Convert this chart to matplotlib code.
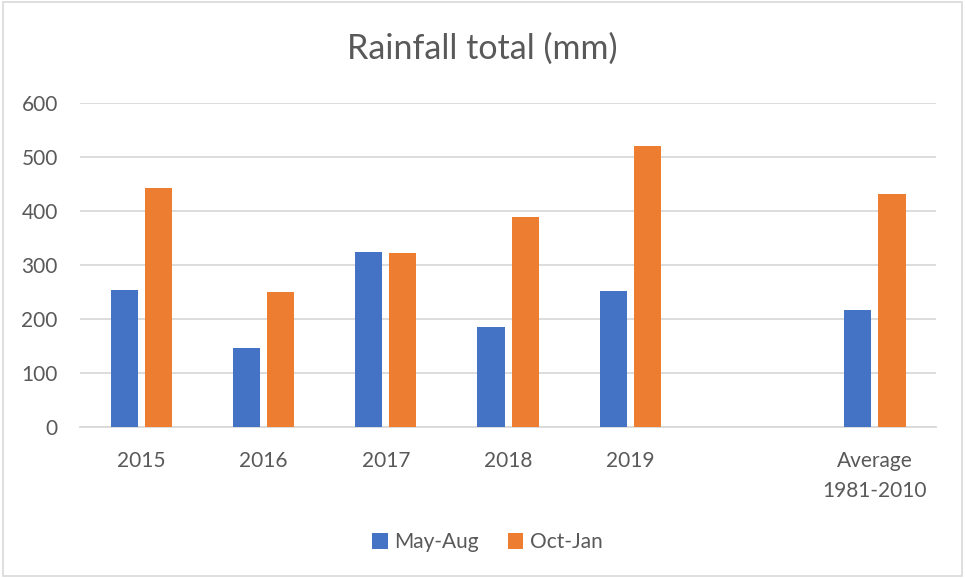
import numpy as np
import matplotlib
matplotlib.use("Agg")
import matplotlib.pyplot as plt
from matplotlib.patches import Rectangle

plt.rcParams['font.family'] = ['Lato', 'DejaVu Sans']

categories = ["2015", "2016", "2017", "2018", "2019", "", "Average\n1981-2010"]
may_aug = [254, 146, 325, 186, 253, np.nan, 217]
oct_jan = [443, 250, 322, 388, 520, np.nan, 431]
series_names = ["May-Aug", "Oct-Jan"]
colors = ["#4472C4", "#ED7D31"]
text_color = "#595959"
grid_color = "#D9D9D9"

fig = plt.figure(figsize=(9.65, 5.78), dpi=100)
ax = fig.add_axes([0.083, 0.2604, 0.887, 0.5619])

x = np.arange(len(categories))
width = 0.222
offset = 0.14
ax.bar(x - offset, may_aug, width, color=colors[0], label=series_names[0], zorder=3)
ax.bar(x + offset, oct_jan, width, color=colors[1], label=series_names[1], zorder=3)

ax.set_xlim(-0.5, len(categories) - 0.5)
ax.set_ylim(0, 600)
ax.set_yticks(np.arange(0, 601, 100))
ax.set_xticks(x)
ax.set_xticklabels(categories, linespacing=1.6)
ax.yaxis.grid(True, color=grid_color, linewidth=1.3, zorder=0)
ax.tick_params(axis='both', length=0, labelsize=15, colors=text_color)
ax.tick_params(axis='x', pad=17)
ax.tick_params(axis='y', pad=16)
for side in ["top", "right", "left"]:
    ax.spines[side].set_visible(False)
ax.spines["bottom"].set_color(grid_color)
ax.spines["bottom"].set_linewidth(1.3)

fig.text(0.5, 0.915, "Rainfall total (mm)", ha="center", va="center",
         fontsize=24.5, color=text_color)

leg = fig.legend(loc="center", bbox_to_anchor=(0.505, 0.062), ncol=2, frameon=False,
                 fontsize=15, handlelength=0.75, handleheight=0.75, columnspacing=1.4,
                 handletextpad=0.3)
for t in leg.get_texts():
    t.set_color(text_color)

fig.patches.append(Rectangle((0.003, 0.004), 0.994, 0.993, transform=fig.transFigure,
                             fill=False, edgecolor="#D9D9D9", linewidth=1.2))

fig.savefig("out.png", dpi=100, facecolor="white")
